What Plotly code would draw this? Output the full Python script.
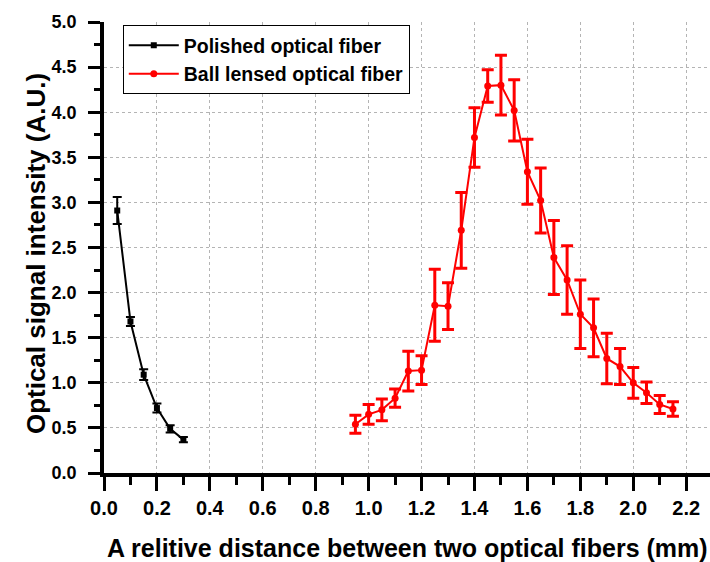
import plotly.graph_objects as go

# ---- data ----
x_polished = [0.05, 0.10, 0.15, 0.20, 0.25, 0.30]
y_polished = [2.91, 1.68, 1.09, 0.72, 0.49, 0.37]
err_polished = [0.15, 0.05, 0.06, 0.05, 0.04, 0.03]

x_ball = [0.95, 1.00, 1.05, 1.10, 1.15, 1.20, 1.25, 1.30, 1.35, 1.40, 1.45, 1.50, 1.55,
          1.60, 1.65, 1.70, 1.75, 1.80, 1.85, 1.90, 1.95, 2.00, 2.05, 2.10, 2.15]
y_ball = [0.54, 0.65, 0.70, 0.83, 1.13, 1.14, 1.86, 1.85, 2.69, 3.72, 4.29, 4.30, 4.02,
          3.34, 3.02, 2.39, 2.14, 1.76, 1.61, 1.27, 1.18, 1.00, 0.89, 0.76, 0.71]
err_ball = [0.10, 0.11, 0.12, 0.10, 0.22, 0.16, 0.40, 0.26, 0.42, 0.33, 0.18, 0.33, 0.34,
            0.36, 0.36, 0.41, 0.38, 0.38, 0.32, 0.28, 0.20, 0.17, 0.12, 0.10, 0.08]

x_ticks = [0.0, 0.2, 0.4, 0.6, 0.8, 1.0, 1.2, 1.4, 1.6, 1.8, 2.0, 2.2]
y_ticks = [0.0, 0.5, 1.0, 1.5, 2.0, 2.5, 3.0, 3.5, 4.0, 4.5, 5.0]

names = ["Polished optical fiber", "Ball lensed optical fiber"]
x_title = "A relitive distance between two optical fibers (mm)"
y_title = "Optical signal intensity (A.U.)"

FONT = "Liberation Sans, Arial, sans-serif"

fig = go.Figure()
fig.add_trace(go.Scatter(
    x=x_polished, y=y_polished, name=names[0], mode="lines+markers",
    line=dict(color="black", width=2),
    marker=dict(symbol="square", size=6, color="black"),
    error_y=dict(type="data", array=err_polished, color="black", thickness=2, width=4.5),
))
fig.add_trace(go.Scatter(
    x=x_ball, y=y_ball, name=names[1], mode="lines+markers",
    line=dict(color="#ff0000", width=2),
    marker=dict(symbol="circle", size=7, color="#ff0000"),
    error_y=dict(type="data", array=err_ball, color="#ff0000", thickness=3, width=6),
))

fig.update_layout(
    width=710, height=562,
    margin=dict(l=104, r=0, t=22, b=89),
    paper_bgcolor="white", plot_bgcolor="white",
    showlegend=True,
    legend=dict(
        x=0.031, y=0.993, xanchor="left", yanchor="top",
        bgcolor="white", bordercolor="black", borderwidth=1,
        font=dict(family=FONT, size=19.5, color="black", weight="bold"),
        tracegroupgap=0, itemwidth=50,
    ),
    font=dict(family=FONT, color="black"),
)

fig.update_xaxes(
    range=[0, 2.29], tickvals=x_ticks, ticktext=[f"{v:.1f}" for v in x_ticks],
    showline=True, linecolor="black", linewidth=3.5,
    ticks="outside", ticklen=14, tickwidth=3, tickcolor="black",
    ticklabelstandoff=0,
    tickfont=dict(family=FONT, size=20, color="black", weight="bold"),
    minor=dict(dtick=0.1, ticks="outside", ticklen=8, tickwidth=3, tickcolor="black", showgrid=False),
    showgrid=True, gridcolor="#b4b4b4", gridwidth=1, griddash="dot",
    zeroline=False,
)
fig.update_yaxes(
    range=[0, 5.0], tickvals=y_ticks, ticktext=[f"{v:.1f}" for v in y_ticks],
    showline=True, linecolor="black", linewidth=3.5,
    ticks="outside", ticklen=12, tickwidth=3, tickcolor="black",
    ticklabelstandoff=8,
    tickfont=dict(family=FONT, size=18, color="black", weight="bold"),
    minor=dict(dtick=0.25, ticks="outside", ticklen=6, tickwidth=3, tickcolor="black", showgrid=False),
    showgrid=True, gridcolor="#b4b4b4", gridwidth=1, griddash="dot",
    zeroline=False,
)

fig.add_annotation(
    text=y_title, xref="paper", yref="paper", x=-0.111, y=0.487,
    xanchor="center", yanchor="middle", textangle=-90, showarrow=False,
    font=dict(family=FONT, size=26, color="black", weight="bold"),
)
fig.add_annotation(
    text=x_title, xref="paper", yref="paper", x=0.5, y=-0.166,
    xanchor="center", yanchor="middle", showarrow=False,
    font=dict(family=FONT, size=25, color="black", weight="bold"),
)

fig.write_html("out.html")
